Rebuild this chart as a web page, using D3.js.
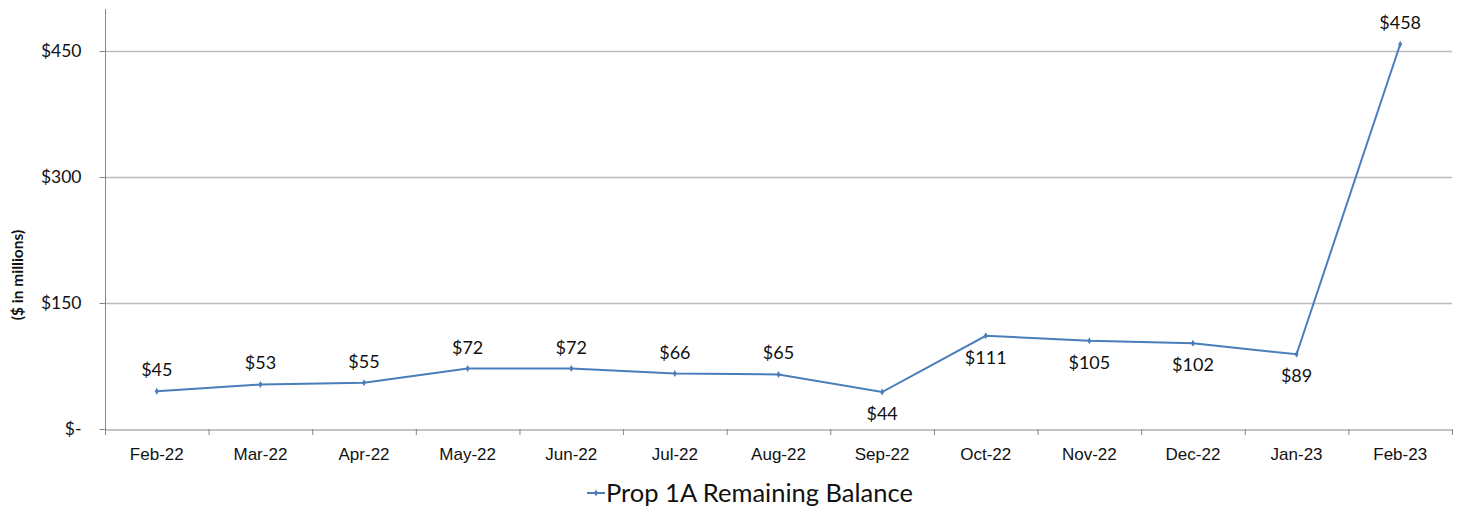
<!DOCTYPE html>
<html>
<head>
<meta charset="utf-8">
<script src="https://cdn.jsdelivr.net/npm/d3@7"></script>
<style>
  body { margin: 0; background: #fff; }
  svg { display: block; font-family: Lato, "Open Sans", sans-serif; }
</style>
</head>
<body>
<svg id="chart" width="1457" height="508"></svg>
<script>
const months = ['Feb-22', 'Mar-22', 'Apr-22', 'May-22', 'Jun-22', 'Jul-22', 'Aug-22',
  'Sep-22', 'Oct-22', 'Nov-22', 'Dec-22', 'Jan-23', 'Feb-23'];
const balance = [45, 53, 55, 72, 72, 66, 65, 44, 111, 105, 102, 89, 458];
// label goes below the point for these months
const labelBelow = ['Sep-22', 'Oct-22', 'Nov-22', 'Dec-22', 'Jan-23'];
const yTicks = [0, 150, 300, 450];
const seriesName = 'Prop 1A Remaining Balance';

const color = '#4a7ebb';
const margin = { top: 9, right: 5, bottom: 79, left: 105 };
const W = 1457, H = 508;

const svg = d3.select('#chart');

const x = d3.scaleBand().domain(months).range([margin.left, W - margin.right]);
const y = d3.scaleLinear().domain([0, 500]).range([H - margin.bottom, margin.top]);
const cx = d => x(d) + x.bandwidth() / 2;

// gridlines
svg.append('g')
  .selectAll('line')
  .data(yTicks.filter(d => d > 0))
  .join('line')
  .attr('x1', margin.left).attr('x2', W - margin.right)
  .attr('y1', d => y(d) + 0.5).attr('y2', d => y(d) + 0.5)
  .attr('stroke', '#bcbcbc').attr('stroke-width', 1.3);

// y axis
const yAxis = svg.append('g')
  .attr('transform', `translate(${margin.left + 0.5},0)`)
  .call(d3.axisLeft(y).tickValues(yTicks).tickSize(6).tickSizeOuter(0)
    .tickFormat(d => d === 0 ? '$-' : '$' + d));
yAxis.select('.domain').attr('stroke', '#868686').attr('d', `M0,${y(0)}V${margin.top}`);
yAxis.selectAll('.tick line').attr('stroke', '#868686');
yAxis.selectAll('.tick text').attr('font-size', 17.5).attr('fill', '#111').attr('x', -24)
  .attr('font-family', 'Lato, sans-serif');

// x axis
const xAxis = svg.append('g')
  .attr('transform', `translate(0,${y(0) + 0.5})`)
  .call(d3.axisBottom(x).tickSize(0).tickSizeOuter(0));
xAxis.select('.domain').attr('stroke', '#868686');
xAxis.selectAll('.tick text').attr('font-size', 17).attr('fill', '#111').attr('dy', '1.6em');
// tick marks between categories
svg.append('g')
  .selectAll('line')
  .data(d3.range(months.length + 1))
  .join('line')
  .attr('x1', i => x(months[0]) + i * x.step() + 0.5)
  .attr('x2', i => x(months[0]) + i * x.step() + 0.5)
  .attr('y1', y(0)).attr('y2', y(0) + 6)
  .attr('stroke', '#868686');

// y title
svg.append('text')
  .attr('transform', `translate(23,${(margin.top + y(0)) / 2 + 56}) rotate(-90)`)
  .attr('text-anchor', 'middle')
  .attr('font-size', 15.5).attr('font-weight', 'bold').attr('fill', '#111')
  .text('($ in millions)');

// line
const data = months.map((m, i) => ({ m, v: balance[i] }));
svg.append('path')
  .datum(data)
  .attr('fill', 'none')
  .attr('stroke', color)
  .attr('stroke-width', 2)
  .attr('d', d3.line().x(d => cx(d.m)).y(d => y(d.v)));

svg.append('g')
  .selectAll('path')
  .data(data)
  .join('path')
  .attr('transform', d => `translate(${cx(d.m)},${y(d.v)})`)
  .attr('d', d3.symbol(d3.symbolDiamond, 14))
  .attr('fill', color);

// data labels
svg.append('g')
  .selectAll('text')
  .data(data)
  .join('text')
  .attr('x', d => cx(d.m))
  .attr('y', d => labelBelow.includes(d.m) ? y(d.v) + 28 : y(d.v) - 15)
  .attr('text-anchor', 'middle')
  .attr('font-size', 18).attr('fill', '#111')
  .text(d => '$' + d.v);

// legend
const lg = svg.append('g').attr('transform', 'translate(587,493)');
lg.append('line').attr('x1', 0).attr('x2', 18).attr('y1', 0).attr('y2', 0)
  .attr('stroke', color).attr('stroke-width', 2);
lg.append('path').attr('transform', 'translate(9,0)')
  .attr('d', d3.symbol(d3.symbolDiamond, 14)).attr('fill', color);
lg.append('text').attr('x', 19).attr('y', 9)
  .attr('font-size', 25.5).attr('fill', '#111')
  .text(seriesName);
</script>
</body>
</html>
